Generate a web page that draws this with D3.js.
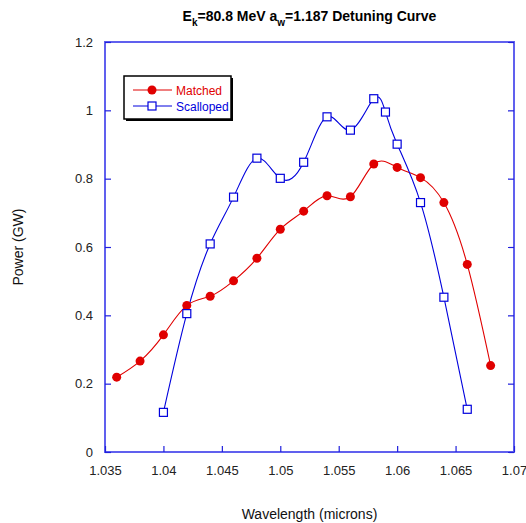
<!DOCTYPE html>
<html>
<head>
<meta charset="utf-8">
<script src="https://cdn.jsdelivr.net/npm/d3@7"></script>
<style>
  body { margin: 0; background: #fff; }
  text { font-family: "Liberation Sans", Arial, sans-serif; }
</style>
</head>
<body>
<svg id="chart" width="526" height="523"></svg>
<script>
// data
var matchedX = [1.036, 1.038, 1.040, 1.042, 1.044, 1.046, 1.048, 1.050, 1.052, 1.054, 1.056, 1.058, 1.060, 1.062, 1.064, 1.066, 1.068];
var matchedY = [0.219, 0.266, 0.343, 0.429, 0.456, 0.501, 0.567, 0.652, 0.705, 0.750, 0.747, 0.843, 0.833, 0.803, 0.730, 0.549, 0.253];
var scallopedX = [1.040, 1.042, 1.044, 1.046, 1.048, 1.050, 1.052, 1.054, 1.056, 1.058, 1.059, 1.060, 1.062, 1.064, 1.066];
var scallopedY = [0.116, 0.405, 0.609, 0.746, 0.860, 0.801, 0.848, 0.981, 0.942, 1.034, 0.995, 0.901, 0.730, 0.453, 0.125];
var xTicks = [1.035, 1.04, 1.045, 1.05, 1.055, 1.06, 1.065, 1.07];
var yTicks = [0, 0.2, 0.4, 0.6, 0.8, 1, 1.2];

var svg = d3.select("#chart");
var mLeft = 105, mRight = 514, mTop = 42, mBottom = 452;

var x = d3.scaleLinear().domain([1.035, 1.07]).range([mLeft, mRight]);
var y = d3.scaleLinear().domain([0, 1.2]).range([mBottom, mTop]);

var axisColor = "#6060ee";
var red = "#e00000", blue = "#0000dd";

// frame
svg.append("rect")
  .attr("x", mLeft).attr("y", mTop)
  .attr("width", mRight - mLeft).attr("height", mBottom - mTop)
  .attr("fill", "none").attr("stroke", axisColor).attr("stroke-width", 2);

// axes, ticks pointing inward
var xAxis = svg.append("g").attr("transform", "translate(0," + mBottom + ")")
  .call(d3.axisBottom(x).tickValues(xTicks).tickSize(-6).tickPadding(14)
    .tickFormat(function(d) { return String(+d.toFixed(3)); }));
var yAxis = svg.append("g").attr("transform", "translate(" + mLeft + ",0)")
  .call(d3.axisLeft(y).tickValues(yTicks).tickSize(-6).tickPadding(12)
    .tickFormat(function(d) { return String(+d.toFixed(1)); }));
var yAxisR = svg.append("g").attr("transform", "translate(" + mRight + ",0)")
  .call(d3.axisRight(y).tickValues(yTicks).tickSize(-6).tickFormat(""));

[xAxis, yAxis, yAxisR].forEach(function(a) {
  a.select(".domain").remove();
  a.selectAll(".tick line").attr("stroke", "#2020dd").attr("stroke-width", 1.2);
  a.selectAll(".tick text").attr("fill", "#222").style("font-size", "13px")
    .style("font-family", "'Liberation Sans', Arial, sans-serif");
});

// curves
var line = d3.line()
  .x(function(d) { return x(d[0]); })
  .y(function(d) { return y(d[1]); })
  .curve(d3.curveNatural);

var matched = d3.zip(matchedX, matchedY);
var scalloped = d3.zip(scallopedX, scallopedY);

svg.append("path").datum(matched)
  .attr("d", line).attr("fill", "none").attr("stroke", red).attr("stroke-width", 1.1);
svg.append("path").datum(scalloped)
  .attr("d", line).attr("fill", "none").attr("stroke", blue).attr("stroke-width", 1.1);

svg.selectAll(".dot").data(matched).enter().append("circle")
  .attr("cx", function(d) { return x(d[0]); })
  .attr("cy", function(d) { return y(d[1]); })
  .attr("r", 4.5).attr("fill", red);

svg.selectAll(".sq").data(scalloped).enter().append("rect")
  .attr("x", function(d) { return x(d[0]) - 4; })
  .attr("y", function(d) { return y(d[1]) - 4; })
  .attr("width", 8).attr("height", 8)
  .attr("fill", "#fff").attr("stroke", blue).attr("stroke-width", 1.2);

// legend
var lg = svg.append("g");
lg.append("rect").attr("x", 126).attr("y", 78).attr("width", 107).attr("height", 43).attr("fill", "#000");
lg.append("rect").attr("x", 124).attr("y", 76).attr("width", 107).attr("height", 43)
  .attr("fill", "#fff").attr("stroke", "#000").attr("stroke-width", 1.5);
lg.append("line").attr("x1", 133).attr("x2", 172).attr("y1", 90).attr("y2", 90).attr("stroke", red);
lg.append("circle").attr("cx", 152).attr("cy", 90).attr("r", 4.5).attr("fill", red);
lg.append("text").attr("x", 176).attr("y", 95).attr("fill", red).style("font-size", "12px").text("Matched");
lg.append("line").attr("x1", 133).attr("x2", 172).attr("y1", 106).attr("y2", 106).attr("stroke", blue);
lg.append("rect").attr("x", 148).attr("y", 102).attr("width", 8).attr("height", 8)
  .attr("fill", "#fff").attr("stroke", blue).attr("stroke-width", 1.2);
lg.append("text").attr("x", 176).attr("y", 111).attr("fill", blue).style("font-size", "12px").text("Scalloped");

// title
var title = svg.append("text").attr("x", (mLeft + mRight) / 2).attr("y", 21)
  .attr("text-anchor", "middle").style("font-size", "14px").style("font-weight", "bold");
title.append("tspan").text("E");
title.append("tspan").attr("dy", 5).style("font-size", "10px").text("k");
title.append("tspan").attr("dy", -5).text("=80.8 MeV a");
title.append("tspan").attr("dy", 5).style("font-size", "10px").text("w");
title.append("tspan").attr("dy", -5).text("=1.187 Detuning Curve");

// axis titles
svg.append("text").attr("x", (mLeft + mRight) / 2).attr("y", 519)
  .attr("text-anchor", "middle").style("font-size", "14px").attr("fill", "#111")
  .text("Wavelength (microns)");
svg.append("text").attr("transform", "translate(23,247) rotate(-90)")
  .attr("text-anchor", "middle").style("font-size", "14px").attr("fill", "#111")
  .text("Power (GW)");
</script>
</body>
</html>
